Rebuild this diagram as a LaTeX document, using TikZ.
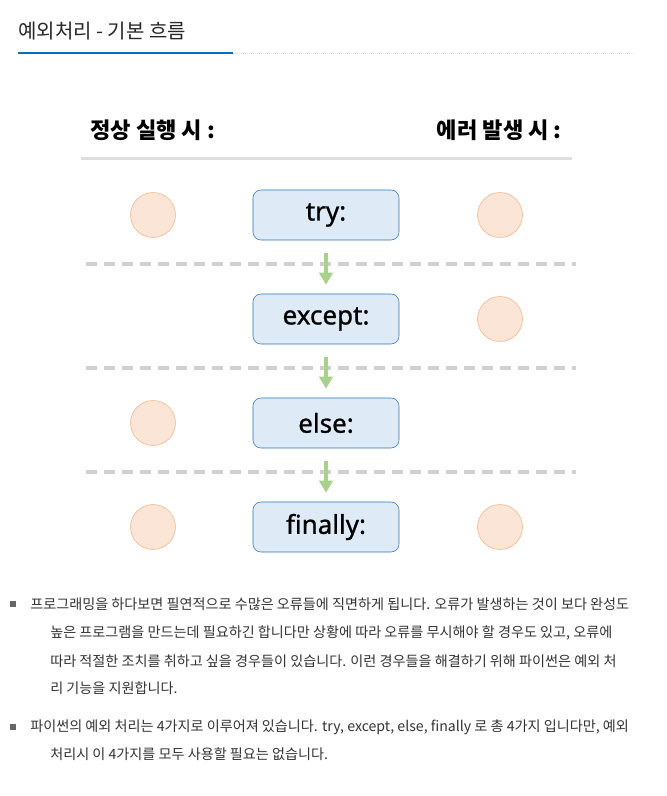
\documentclass[tikz,border=0pt]{standalone}
\usepackage{fontspec}
\setmainfont{Noto Sans CJK KR}
\newfontfamily\boxfont{Noto Sans}[FakeBold=0.9]
\usetikzlibrary{arrows.meta,positioning}
\definecolor{titleblue}{HTML}{0070C0}
\definecolor{blkfill}{HTML}{DEEBF7}
\definecolor{blkline}{HTML}{2E75B6}
\definecolor{dotfill}{HTML}{FBE5D6}
\definecolor{dotline}{HTML}{F4B183}
\definecolor{sepgray}{HTML}{D0D0D0}
\definecolor{flowgreen}{HTML}{A9D18E}
\definecolor{bodygray}{HTML}{333333}

\begin{document}
\begin{tikzpicture}[x=0.75pt,y=-0.75pt,
  hdr/.style={inner sep=0pt,font=\fontsize{16.6}{19}\selectfont\bfseries},
  blk/.style={draw=blkline,fill=blkfill,rounded corners=6pt,minimum width=109.5pt,minimum height=37.5pt,font=\boxfont\fontsize{19.5}{22}\selectfont},
  dot/.style={circle,draw=dotline,fill=dotfill,minimum size=33.75pt,inner sep=0pt},
  sep/.style={line width=2.5pt,draw=sepgray,dash pattern=on 8pt off 5.5pt},
  flow/.style={-{Triangle[width=10pt,length=9pt]},line width=3pt,draw=flowgreen,shorten <=9.75pt,shorten >=6.75pt},
  txt/.style={anchor=west,inner sep=0pt,text=bodygray,font=\fontsize{10.6}{13}\selectfont},
  bul/.style={fill=gray!80!black,minimum size=4.5pt,inner sep=0pt}]
\useasboundingbox (0,0) rectangle (667,796);
% title
\node[anchor=west,inner sep=0pt,font=\fontsize{15}{18}\selectfont,text=black!85](title) at(18,31){예외처리 - 기본 흐름};
\draw[line width=2pt,titleblue](18,53)--(233,53);
\draw[densely dotted,gray!30,line width=0.5pt](233,53)--(635,53);
% column heads
\node[hdr,anchor=west](ok) at(90,130){정상 실행 시 :};
\node[hdr,anchor=east](err) at(562,130){에러 발생 시 :};
\draw[line width=2.25pt,black!13](81,158)--(572,158);
% blocks
\node[blk](try) at(326,215){try:};
\node[blk](except) at(326,319){except:};
\node[blk](else) at(326,423){else:};
\node[blk](finally) at(326,527){finally:};
% markers
\node[dot](l1) at(153,215){};
\node[dot](r1) at(500,215){};
\node[dot](r2) at(500,319){};
\node[dot](l3) at(153,423){};
\node[dot](l4) at(153,527){};
\node[dot](r4) at(500,527){};
% separators
\foreach \y in {264,368,472}\draw[sep](86,\y)--(576,\y);
\draw[flow](try)--(except);
\draw[flow](except)--(else);
\draw[flow](else)--(finally);
% notes
\node[bul](b1) at(13,604){};
\node[txt](p1) at(30,604){프로그래밍을 하다보면 필연적으로 수많은 오류들에 직면하게 됩니다. 오류가 발생하는 것이 보다 완성도};
\node[txt](p2) at(50,633){높은 프로그램을 만드는데 필요하긴 합니다만 상황에 따라 오류를 무시해야 할 경우도 있고, 오류에};
\node[txt](p3) at(50,661){따라 적절한 조치를 취하고 싶을 경우들이 있습니다. 이런 경우들을 해결하기 위해 파이썬은 예외 처};
\node[txt](p4) at(50,688){리 기능을 지원합니다.};
\node[bul](b2) at(13,727){};
\node[txt](q1) at(30,727){파이썬의 예외 처리는 4가지로 이루어져 있습니다. try, except, else, finally 로 총 4가지 입니다만, 예외};
\node[txt](q2) at(50,754){처리시 이 4가지를 모두 사용할 필요는 없습니다.};
\end{tikzpicture}
\end{document}
